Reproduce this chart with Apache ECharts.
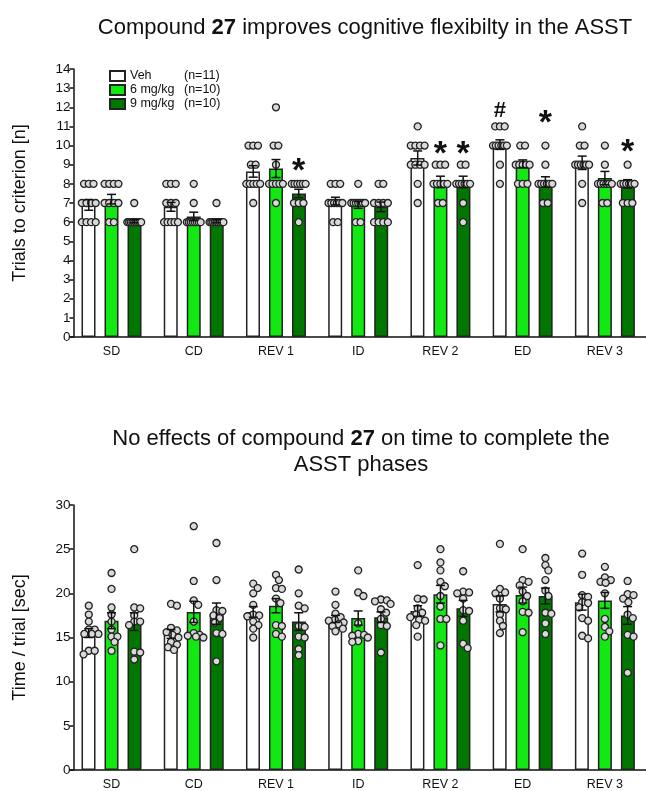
<!DOCTYPE html>
<html><head><meta charset="utf-8">
<script src="https://cdn.jsdelivr.net/npm/echarts@6/dist/echarts.min.js"></script>
<style>html,body{margin:0;padding:0;background:#fff}#c{width:646px;height:791px}</style>
</head><body><div id="c"></div>
<script>
// ---------- data ----------
const categories = ['SD', 'CD', 'REV 1', 'ID', 'REV 2', 'ED', 'REV 3'];
const groups = ['Veh', '6 mg/kg', '9 mg/kg'];
const groupN = ['(n=11)', '(n=10)', '(n=10)'];

// Trials to criterion (top panel)
const trialsMeanVeh = [6.9, 6.8, 8.65, 7.1, 9.35, 10.05, 9.1];
const trialsSemVeh  = [0.28, 0.23, 0.3, 0.2, 0.37, 0.25, 0.35];
const trialsMean6   = [7.2, 6.3, 8.8, 6.9, 8.1, 9.05, 8.3];
const trialsSem6    = [0.25, 0.22, 0.47, 0.18, 0.3, 0.2, 0.35];
const trialsMean9   = [6.05, 6.05, 7.5, 6.8, 8.1, 8.1, 8.0];
const trialsSem9    = [0.08, 0.08, 0.22, 0.25, 0.3, 0.27, 0.22];

const trialsDotsVeh = [
  [8,8,8,7,7,7,7,6,6,6,6],
  [8,8,8,7,7,7,6,6,6,6,6],
  [10,10,10,9,9,8,8,8,8,8,7],
  [8,8,8,7,7,7,7,7,7,6,6],
  [11,10,10,10,10,9,9,9,9,8,7],
  [11,11,11,10,10,10,10,10,10,9,8],
  [11,10,10,9,9,9,9,9,9,8,7]
];
const trialsDots6 = [
  [8,8,8,8,7,7,7,7,6,6],
  [8,7,6,6,6,6,6,6,6,6],
  [12,10,10,9,8,8,8,8,8,7],
  [8,7,7,7,7,7,7,7,6,6],
  [9,9,9,8,8,8,8,8,7,7],
  [10,10,9,9,9,9,9,8,8,8],
  [10,9,8,8,8,8,8,8,7,7]
];
const trialsDots9 = [
  [7,6,6,6,6,6,6,6,6,6],
  [7,6,6,6,6,6,6,6,6,6],
  [8,8,8,8,8,8,7,7,7,6],
  [8,8,7,7,7,7,6,6,6,6],
  [9,9,8,8,8,8,8,8,7,6],
  [10,9,8,8,8,8,8,8,7,7],
  [9,8,8,8,8,8,8,7,7,7]
];
// significance marks (category index, group index, y position, text)
const marksCat   = [2, 4, 4, 5, 5, 6];
const marksGroup = [2, 1, 2, 0, 2, 2];
const marksY     = [9.1, 10.0, 10.0, 11.9, 11.6, 10.1];
const marksText  = ['*', '*', '*', '#', '*', '*'];

// Time / trial (bottom panel)
const timeMeanVeh = [15.5, 15.4, 17.9, 17.1, 18.0, 18.8, 19.0];
const timeSemVeh  = [0.5, 0.5, 0.6, 0.4, 0.6, 0.9, 0.9];
const timeMean6   = [16.9, 17.9, 18.6, 17.2, 19.9, 19.8, 19.2];
const timeSem6    = [0.9, 1.2, 0.8, 0.8, 1.0, 0.9, 0.9];
const timeMean9   = [16.8, 17.7, 16.8, 17.3, 18.3, 19.7, 17.5];
const timeSem9    = [1.0, 1.2, 1.0, 0.6, 0.9, 0.9, 1.0];

const timeDotsVeh = [
  [18.6, 17.6, 16.8, 15.9, 15.9, 15.4, 15.4, 15.4, 13.5, 13.5, 13.1],
  [18.8, 18.6, 16.1, 15.8, 15.6, 15.3, 15.0, 14.5, 14.2, 13.9, 13.6],
  [21.1, 20.6, 20.0, 18.7, 17.6, 17.5, 17.4, 16.8, 16.4, 16.0, 15.0],
  [20.2, 18.7, 17.7, 17.3, 17.0, 16.9, 16.7, 16.5, 16.3, 16.0, 15.7],
  [23.2, 19.4, 19.3, 18.3, 17.8, 17.6, 17.3, 17.0, 16.9, 16.4, 15.1],
  [25.6, 20.5, 20.1, 20.0, 19.4, 18.3, 18.2, 17.6, 16.9, 16.3, 15.5],
  [24.5, 22.1, 19.8, 19.6, 19.0, 18.9, 18.4, 17.2, 16.9, 15.2, 14.9]
];
const timeDots6 = [
  [22.3, 20.5, 18.4, 17.6, 16.8, 15.9, 15.1, 15.1, 14.5, 13.5],
  [27.6, 21.4, 19.2, 18.7, 16.8, 15.5, 15.3, 15.2, 15.1, 15.0],
  [22.1, 21.5, 20.6, 20.5, 19.4, 18.9, 16.4, 16.3, 15.4, 15.1],
  [22.6, 20.1, 19.7, 16.6, 15.4, 15.3, 15.2, 15.0, 14.6, 14.5],
  [25.0, 23.5, 22.6, 21.3, 20.8, 19.7, 18.5, 17.1, 17.1, 14.1],
  [25.0, 21.5, 21.3, 20.9, 20.2, 19.7, 19.1, 17.9, 17.8, 15.6],
  [23.0, 21.8, 21.5, 21.3, 21.2, 20.0, 17.1, 16.2, 15.7, 15.1]
];
const timeDots9 = [
  [25.0, 18.4, 18.3, 17.5, 16.8, 16.8, 16.4, 13.4, 13.3, 12.5],
  [25.7, 21.5, 18.1, 18.0, 17.5, 17.2, 16.7, 15.5, 15.4, 12.3],
  [22.7, 20.0, 18.6, 18.3, 16.3, 16.2, 15.1, 15.0, 13.7, 13.0],
  [19.3, 19.2, 19.1, 18.8, 18.2, 17.8, 17.1, 16.4, 16.3, 13.3],
  [22.5, 20.2, 20.1, 20.0, 19.4, 18.1, 18.0, 16.9, 14.3, 13.8],
  [24.0, 23.2, 22.6, 21.5, 20.3, 19.7, 17.8, 17.7, 16.6, 15.4],
  [21.4, 19.9, 19.8, 19.4, 19.0, 17.6, 17.2, 15.3, 15.1, 11.0]
];

const trialsTicks = {min: 0, max: 14, interval: 1};
const timeTicks = {min: 0, max: 30, interval: 5};

// ---------- layout / style ----------
const FONT = 'Liberation Sans';
const colors = ['#ffffff', '#12e812', '#007800'];
const gridLeft = 70.4, gridRight = -6.8, gridH = 268;
const gridW = 646 - gridLeft - gridRight;
const pxPerCat = gridW / categories.length;
const barW = 14, barGapPx = 9;
const groupOffsets = [-1, 0, 1].map(k => k * (barW + barGapPx) / pxPerCat);

// equal-value spread (integer data): pack identical values side by side, within bar width
function packEqual(vals, spacing, maxWidth) {
  const offs = new Array(vals.length).fill(0);
  const byVal = {};
  vals.forEach((v, i) => { (byVal[v] = byVal[v] || []).push(i); });
  Object.values(byVal).forEach(idx => {
    const k = idx.length;
    const s = k > 1 ? Math.min(spacing, maxWidth / (k - 1)) : 0;
    idx.forEach((i, j) => { offs[i] = (j - (k - 1) / 2) * s / pxPerCat; });
  });
  return offs;
}

// beeswarm for continuous data, clamped to a max half width
function swarm(vals, pxPerUnitY, minDist, maxHalf) {
  const order = vals.map((v, i) => i).sort((a, b) => vals[b] - vals[a]);
  const cands = [0];
  for (let c = 0.75; c <= maxHalf + 1e-9; c += 0.75) { cands.push(c, -c); }
  const placed = [];
  const offs = new Array(vals.length).fill(0);
  for (const i of order) {
    const y = vals[i] * pxPerUnitY;
    let chosen = null, bestC = 0, bestD = -1;
    for (const c of cands) {
      let md = Infinity;
      for (const p of placed) md = Math.min(md, Math.hypot(p.x - c, p.y - y));
      if (md >= minDist) { chosen = c; break; }
      if (md > bestD + 0.01) { bestD = md; bestC = c; }
    }
    if (chosen === null) chosen = bestC;
    placed.push({x: chosen, y: y});
    offs[i] = chosen / pxPerCat;
  }
  return offs;
}

function dotSeries(dotsByCat, gi, axisIdx, offsFn) {
  const data = [];
  dotsByCat.forEach((vals, ci) => {
    const offs = offsFn(vals);
    vals.forEach((v, j) => data.push([ci + groupOffsets[gi] + offs[j], v]));
  });
  return {
    type: 'scatter', xAxisIndex: axisIdx * 2 + 1, yAxisIndex: axisIdx, z: 4,
    symbol: 'circle', symbolSize: 7, silent: true,
    itemStyle: {color: '#d9d9d9', borderColor: '#222', borderWidth: 1.3, opacity: 1},
    data: data
  };
}

function errSeries(means, sems, gi, axisIdx) {
  return {
    type: 'custom', xAxisIndex: axisIdx * 2 + 1, yAxisIndex: axisIdx, z: 5, silent: true,
    data: means.map((m, i) => [i + groupOffsets[gi], m, sems[i]]),
    renderItem: function (params, api) {
      const x = api.value(0), m = api.value(1), s = api.value(2);
      const t = api.coord([x, m + s]), b = api.coord([x, m - s]);
      const w = 4.5;
      const st = {stroke: '#111', lineWidth: 1.5};
      return {type: 'group', children: [
        {type: 'line', shape: {x1: t[0], y1: t[1], x2: b[0], y2: b[1]}, style: st},
        {type: 'line', shape: {x1: t[0] - w, y1: t[1], x2: t[0] + w, y2: t[1]}, style: st},
        {type: 'line', shape: {x1: b[0] - w, y1: b[1], x2: b[0] + w, y2: b[1]}, style: st}
      ]};
    }
  };
}

// significance marks drawn as text at their data position
function marksSeries() {
  return {
    type: 'custom', xAxisIndex: 1, yAxisIndex: 0, z: 6, silent: true,
    data: marksCat.map((c, i) => [c + groupOffsets[marksGroup[i]], marksY[i], i]),
    renderItem: function (params, api) {
      const p = api.coord([api.value(0), api.value(1)]);
      const txt = marksText[api.value(2)];
      const star = txt === '*';
      return {
        type: 'text', x: p[0], y: p[1] + (star ? 9 : 2),
        style: {
          text: txt, fill: '#111', fontFamily: FONT, fontWeight: 'bold',
          fontSize: star ? 34 : 22, align: 'center', verticalAlign: 'middle'
        }
      };
    }
  };
}

function barSeries(means, gi, axisIdx) {
  return {
    type: 'bar', name: groups[gi], xAxisIndex: axisIdx * 2, yAxisIndex: axisIdx,
    barWidth: barW, barGap: (barGapPx / barW * 100) + '%', z: 2, silent: true,
    itemStyle: {color: colors[gi], borderColor: '#222', borderWidth: 1.5},
    data: means
  };
}

function catAxis(gridIdx) {
  return {
    type: 'category', gridIndex: gridIdx, data: categories,
    axisLine: {onZero: false, lineStyle: {color: '#111', width: 1.5}},
    axisTick: {show: false},
    axisLabel: {color: '#111', fontSize: 12.5, fontFamily: FONT, margin: 8}
  };
}
function valXAxis(gridIdx) {
  return {type: 'value', gridIndex: gridIdx, min: -0.5, max: categories.length - 0.5, show: false,
          axisLine: {onZero: false}};
}
function valYAxis(gridIdx, ticks, name) {
  return {
    type: 'value', gridIndex: gridIdx, min: ticks.min, max: ticks.max, interval: ticks.interval,
    offset: -3,
    name: name, nameLocation: 'middle', nameGap: 44,
    nameTextStyle: {fontSize: 18, color: '#111', fontFamily: FONT},
    axisLine: {show: true, onZero: false, lineStyle: {color: '#111', width: 1.5}},
    axisTick: {show: true, length: 4, lineStyle: {color: '#111', width: 1.5}},
    axisLabel: {color: '#111', fontSize: 13.5, fontFamily: FONT, margin: 3},
    splitLine: {show: false}
  };
}

const pxTop = gridH / (trialsTicks.max - trialsTicks.min);
const pxBot = gridH / (timeTicks.max - timeTicks.min);

const series = [];
[trialsMeanVeh, trialsMean6, trialsMean9].forEach((m, gi) => series.push(barSeries(m, gi, 0)));
[timeMeanVeh, timeMean6, timeMean9].forEach((m, gi) => series.push(barSeries(m, gi, 1)));
[trialsDotsVeh, trialsDots6, trialsDots9].forEach((d, gi) =>
  series.push(dotSeries(d, gi, 0, vals => packEqual(vals, 4.8, 14))));
[timeDotsVeh, timeDots6, timeDots9].forEach((d, gi) =>
  series.push(dotSeries(d, gi, 1, vals => swarm(vals, pxBot, 6, 10))));
series.push(errSeries(trialsMeanVeh, trialsSemVeh, 0, 0));
series.push(errSeries(trialsMean6, trialsSem6, 1, 0));
series.push(errSeries(trialsMean9, trialsSem9, 2, 0));
series.push(errSeries(timeMeanVeh, timeSemVeh, 0, 1));
series.push(errSeries(timeMean6, timeSem6, 1, 1));
series.push(errSeries(timeMean9, timeSem9, 2, 1));
series.push(marksSeries());

const titleStyle = {
  fontSize: 22, fontWeight: 'normal', color: '#111', fontFamily: FONT, lineHeight: 26,
  rich: {b: {fontSize: 22, fontWeight: 'bold', color: '#111', fontFamily: FONT, lineHeight: 26}}
};

const option = {
  animation: false,
  backgroundColor: '#fff',
  title: [
    {text: 'Compound {b|27} improves cognitive flexibilty in the ASST', left: 360, top: 10, textAlign: 'center', textStyle: titleStyle},
    {text: 'No effects of compound {b|27} on time to complete the\nASST phases', left: 356, top: 421, textAlign: 'center', textStyle: titleStyle}
  ],
  legend: {
    orient: 'vertical', left: 104, top: 64, itemWidth: 15, itemHeight: 10, itemGap: 0,
    icon: 'rect',
    data: groups,
    formatter: function (name) { return '{a|' + name + '}{b|' + groupN[groups.indexOf(name)] + '}'; },
    textStyle: {
      fontSize: 12.5, color: '#111', fontFamily: FONT, lineHeight: 14,
      rich: {a: {width: 54, fontSize: 12.5, fontFamily: FONT, color: '#111', lineHeight: 14},
             b: {fontSize: 12.5, fontFamily: FONT, color: '#111', lineHeight: 14}}
    },
    selectedMode: false
  },
  grid: [
    {left: gridLeft, right: gridRight, top: 69, height: gridH},
    {left: gridLeft, right: gridRight, top: 505, height: gridH}
  ],
  xAxis: [catAxis(0), valXAxis(0), catAxis(1), valXAxis(1)],
  yAxis: [valYAxis(0, trialsTicks, 'Trials to criterion [n]'), valYAxis(1, timeTicks, 'Time / trial [sec]')],
  series: series
};

const chart = echarts.init(document.getElementById('c'), null, {renderer: 'canvas'});
chart.setOption(option);
</script>
</body></html>
